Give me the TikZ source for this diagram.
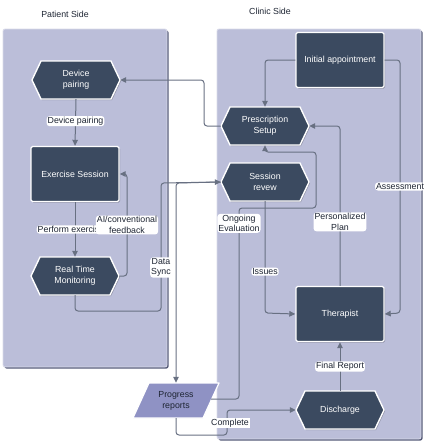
\documentclass[tikz,border=0pt]{standalone}
\usepackage{fontspec}
\setmainfont{Liberation Sans}
\usetikzlibrary{arrows.meta}
\definecolor{panelfill}{HTML}{BBBED9}
\definecolor{panelshadow}{HTML}{555A78}
\definecolor{panelline}{HTML}{DADBE9}
\definecolor{nodefill}{HTML}{3B4A60}
\definecolor{prfill}{HTML}{8F92C4}
\definecolor{edgecol}{HTML}{687082}
\definecolor{txtdark}{HTML}{1E2533}
\tikzset{
  panel/.style={fill=panelfill, draw=panelline, line width=0.8pt, rounded corners=2pt},
  panelsh/.style={fill=panelshadow, rounded corners=2pt},
  boxnode/.style={fill=nodefill, draw=white, line width=1.4pt, rounded corners=1.5pt, text=white,
    minimum width=88pt, minimum height=55pt, align=center, font=\fontsize{8.8}{11}\selectfont},
  hexshape/.style={fill=nodefill, draw=white, line width=1.4pt, line join=round},
  nodesh/.style={fill=black, opacity=0.25},
  hextext/.style={inner sep=0pt, minimum width=88pt, minimum height=38pt, text=white, align=center,
    font=\fontsize{8.8}{11}\selectfont},
  prtext/.style={inner sep=0pt, minimum width=86pt, minimum height=35pt, text=txtdark, align=center,
    font=\fontsize{8.8}{11}\selectfont},
  conn/.style={draw=edgecol, line width=1pt, rounded corners=3pt, -{Triangle[length=6pt,width=5.5pt]}},
  lbl/.style={fill=white, inner sep=1pt, text=txtdark, align=center, font=\fontsize{8.8}{10.5}\selectfont},
  title/.style={text=txtdark, font=\fontsize{8.8}{10}\selectfont}
}
\newcommand\hexnode[4]{%
  \fill[nodesh] (#2-44+1,#3+1) -- (#2-35+1,#3-19+1) -- (#2+35+1,#3-19+1) -- (#2+44+1,#3+1) -- (#2+35+1,#3+19+1) -- (#2-35+1,#3+19+1) -- cycle;
  \draw[hexshape] (#2-44,#3) -- (#2-35,#3-19) -- (#2+35,#3-19) -- (#2+44,#3) -- (#2+35,#3+19) -- (#2-35,#3+19) -- cycle;
  \node[hextext] (#1) at (#2,#3) {#4};
}
\newcommand\boxnodesh[4]{%
  \fill[nodesh, rounded corners=1.5pt] (#2-44+1,#3-27.5+1) rectangle (#2+44+1,#3+27.5+1);
  \node[boxnode] (#1) at (#2,#3) {#4};
}
\begin{document}
\begin{tikzpicture}[x=1pt,y=-1pt]
\useasboundingbox (0,0) rectangle (428,447);
% panels
\fill[panelsh] (4.5,30.5) rectangle (168.5,368.5);
\draw[panel] (3,29) rectangle (167,367);
\fill[panelsh] (218.5,30.5) rectangle (422.5,440.5);
\draw[panel] (217,29) rectangle (421,439);
\node[title] (tp) at (65,14) {Patient Side};
\node[title] (tc) at (270,11) {Clinic Side};

% nodes
\hexnode{dp}{76}{80}{Device\\pairing}
\boxnodesh{ex}{75}{174}{Exercise Session}
\hexnode{rtm}{75}{276}{Real Time\\Monitoring}
\boxnodesh{ia}{340}{60}{Initial appointment}
\hexnode{ps}{265}{126}{Prescription\\Setup}
\hexnode{sr}{265}{182}{Session\\revew}
\boxnodesh{th}{340}{314}{Therapist}
\hexnode{dc}{340}{410}{Discharge}
% progress reports parallelogram
\draw[fill=prfill, draw=white, line width=1.2pt, line join=round] (149,383) -- (219,383) -- (203,418) -- (133,418) -- cycle;
\node[prtext] (pr) at (176,400.5) {Progress\\reports};
\coordinate (prr) at (211,399);

% connectors
\draw[conn] (dp.south) -- node[lbl, pos=0.47] {Device pairing} (ex.north);
\draw[conn] (ex.south) -- node[lbl, pos=0.5, xshift=-4pt] {Perform exercise} (rtm.north);
\draw[conn] (rtm.east) -- (127,276) -- node[lbl, pos=0.5] {AI/conventional\\feedback} (127,174) -- (ex.east);
\draw[conn] (rtm.south) -- (75,311) -- (161,311) -- node[lbl, pos=0.34] {Data\\Sync} (161,183) -- (sr.west);
\draw[conn] (sr.west) -- (176,183) -- (pr.north);
\draw[conn] (sr.south) -- node[lbl, pos=0.63] {Issues} (265,313) -- (th.west);
\draw[conn] (prr) -- (239,399) -- node[lbl, pos=0.92] {Ongoing\\Evaluation} (239,208) -- (316,208) -- (316,152) -- (265,152) -- (ps.south);
\draw[conn] (ps.west) -- (204,126) -- (204,80) -- (dp.east);
\draw[conn] (ia.west) -- (265,60) -- (ps.north);
\draw[conn] (ia.east) -- (400,60) -- node[lbl, pos=0.5] {Assessment} (400,313) -- (th.east);
\draw[conn] (th.north) -- node[lbl, pos=0.4] {Personalized\\Plan} (340,126) -- (ps.east);
\draw[conn] (dc.north) -- node[lbl, pos=0.5] {Final Report} (th.south);
\draw[conn] (pr.south) -- (176,435) -- (227,435) -- (227,410) -- (dc.west);
\node[lbl] (lc) at (230,423) {Complete};
\end{tikzpicture}
\end{document}
